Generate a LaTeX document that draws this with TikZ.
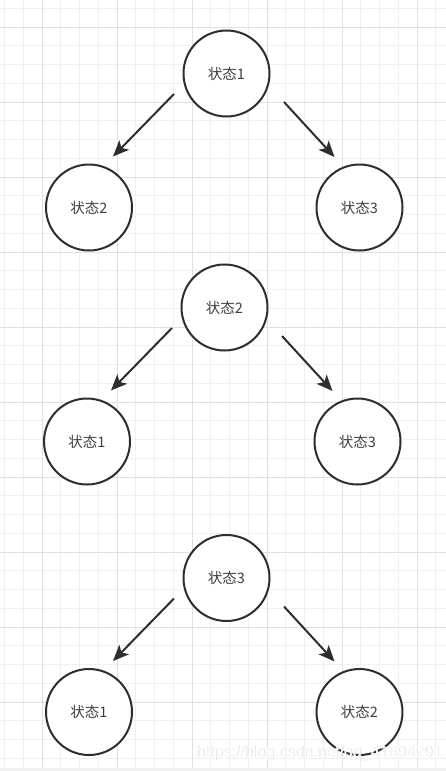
\documentclass[tikz,border=0pt]{standalone}
\usepackage{fontspec}
\newfontfamily\cjk{Noto Sans CJK SC}
\newfontfamily\wmfont{Liberation Sans}
\usetikzlibrary{arrows.meta}
\definecolor{minorgrid}{HTML}{F0F0F0}
\definecolor{majorgrid}{HTML}{E0E0E0}
\definecolor{ink}{HTML}{2E2E2E}
\definecolor{txt}{HTML}{404040}
\tikzset{
  minor/.style={draw=minorgrid, line width=1pt},
  major/.style={draw=majorgrid, line width=1pt},
  state/.style={circle, draw=ink, line width=2pt, fill=white, minimum size=86pt, inner sep=0pt,
    text=txt, font=\cjk\fontsize{14.5}{17}\selectfont},
  link/.style={draw=ink, line width=2pt, -{Stealth[length=16pt,width=13.5pt,inset=4pt]}},
}
\begin{document}
\begin{tikzpicture}[x=1pt,y=-1pt]
\useasboundingbox (0,0) rectangle (446,771);
\fill[white] (0,0) rectangle (446,771);
% grid
\foreach \i in {0,...,23} \draw[minor] ({4.5+18.75*\i},0) -- ({4.5+18.75*\i},771);
\foreach \i in {0,...,40} \draw[minor] (0,{8.25+18.75*\i}) -- (446,{8.25+18.75*\i});
\foreach \i in {0,...,5} \draw[major] ({42+75*\i},0) -- ({42+75*\i},771);
\foreach \i in {0,...,9} \draw[major] (0,{27+75*\i}) -- (446,{27+75*\i});
\fill[minorgrid] (0,767.5) rectangle (446,771);
% groups
\foreach \dx/\dy/\a/\b/\c/\g in {0/0/1/2/3/A, -2/234/2/1/3/B, 0/504.5/3/1/2/C} {
  \begin{scope}[shift={(\dx,\dy)}]
    \node[state] (\g top) at (226.5,73.5) {状态\a};
    \node[state] (\g left) at (89,207.5) {状态\b};
    \node[state] (\g right) at (359.5,207.5) {状态\c};
    \coordinate (\g ls) at (174,94);
    \coordinate (\g le) at (113,156.5);
    \coordinate (\g rs) at (284,102);
    \coordinate (\g re) at (334.5,157);
    \draw[link] (\g ls) -- (\g le);
    \draw[link] (\g rs) -- (\g re);
  \end{scope}
}
% watermark
\node[anchor=base west, inner sep=0pt, text=gray!30, font=\wmfont\fontsize{16}{18}\selectfont] (wm1) at (196.6,757.6) {https://blog.csdn.net/qq\_41694291};
\node[anchor=base west, inner sep=0pt, text=white, font=\wmfont\fontsize{16}{18}\selectfont] (wm) at (196,757) {https://blog.csdn.net/qq\_41694291};
\end{tikzpicture}
\end{document}
